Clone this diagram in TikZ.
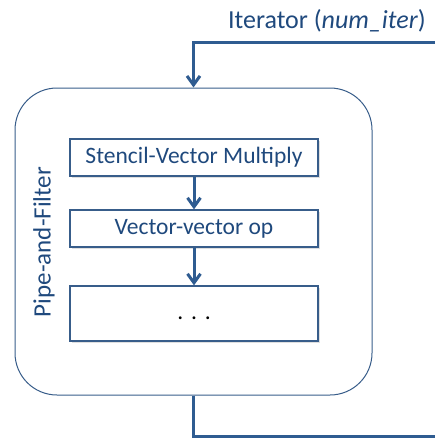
\documentclass[tikz,border=0pt]{standalone}
\usepackage{fontspec}
\setmainfont{Carlito}
\usetikzlibrary{arrows.meta,shadows}
\definecolor{txtblue}{RGB}{31,73,125}
\definecolor{lineblue}{RGB}{56,93,138}
\definecolor{connblue}{RGB}{47,92,145}
\tikzset{
  stagebox/.style={draw=lineblue, line width=1.3pt, fill=white, minimum width=248pt, text=txtblue,
    font=\fontsize{23.5}{26}\selectfont, inner sep=0pt,
    drop shadow={opacity=0.25, shadow xshift=1.5pt, shadow yshift=-1.5pt}},
  conn/.style={draw=connblue, line width=3pt, -{Straight Barb[length=9pt,width=13pt,line width=3pt]}},
  plainconn/.style={draw=connblue, line width=3pt},
  lbl/.style={text=txtblue, inner sep=0pt}
}
\begin{document}
\begin{tikzpicture}[x=1pt,y=-1pt]
\useasboundingbox (0,0) rectangle (435,439);
\node[draw=lineblue, line width=1pt, rounded corners=42pt, minimum width=357pt, minimum height=307pt, inner sep=0pt] (outer) at (193.5,241.5) {};
\node[stagebox, minimum height=37pt] (s1) at (194,157.5) {Stencil-Vector Multiply};
\node[stagebox, minimum height=37pt] (s2) at (194,228.5) {Vector-vector op};
\node[stagebox, minimum height=55pt, text=black] (s3) at (194,313.5) {\raisebox{-12pt}{.\,\,.\,\,.}};
\node[lbl, rotate=90, font=\fontsize{25}{28}\selectfont] (pf) at (44,242) {Pipe-and-Filter};
\node[lbl, anchor=base east, font=\fontsize{26}{30}\selectfont] (it) at (426,28.5) {Iterator (\textit{num\_iter})};
\coordinate (tin) at (435,42);
\coordinate (tout) at (435,436);
\draw[conn] (tin) -| (outer.north);
\draw[conn] (s1.south) -- (s2.north);
\draw[conn] (s2.south) -- (s3.north);
\draw[plainconn] (outer.south) |- (tout);
\end{tikzpicture}
\end{document}
